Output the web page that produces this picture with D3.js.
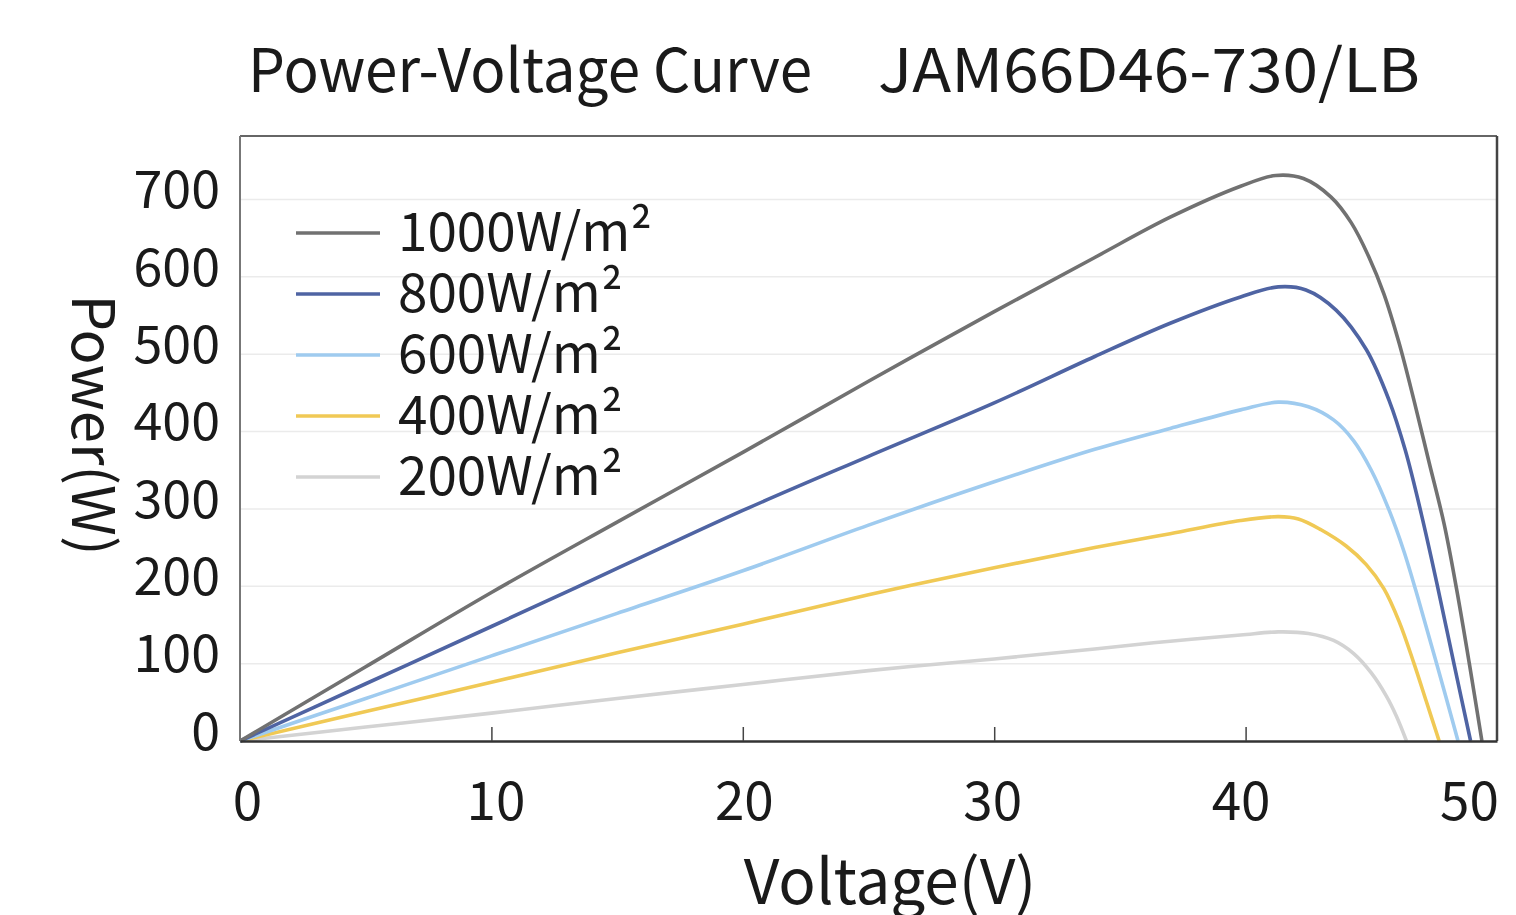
<!DOCTYPE html>
<html>
<head>
<meta charset="utf-8">
<script src="https://cdn.jsdelivr.net/npm/d3@7"></script>
<style>
  body { margin: 0; background: #fff; }
  text { font-family: "Noto Sans CJK SC", "Noto Sans", sans-serif; fill: #1a1a1a; }
</style>
</head>
<body>
<svg id="chart" width="1516" height="915"></svg>
<script>
// irradiance series
var seriesNames = ["1000W/m²", "800W/m²", "600W/m²", "400W/m²", "200W/m²"];
var seriesColors = ["#717171", "#4f64a3", "#9fcbef", "#f0c955", "#d3d3d3"];

var v1000 = [0, 5, 10, 15, 20, 25, 30, 34, 37, 39.8, 41.2, 42.3, 43.4, 44.2, 44.9, 45.5, 46.1, 46.7, 47.3, 47.9, 48.4, 48.9, 49.4];
var p1000 = [0, 96, 192, 283, 373, 465, 555, 625, 677, 717, 731, 727, 703, 670, 626, 578, 515, 440, 360, 280, 195, 100, 0];

var v800 = [0, 5, 10, 15, 20, 25, 30, 34, 37, 39.8, 41.3, 42.4, 43.6, 44.8, 45.7, 46.35, 47.0, 47.6, 48.3, 48.95];
var p800 = [0, 74, 148, 223, 298, 368, 437, 497, 540, 574, 587, 583, 557, 506, 441, 376, 292, 205, 98, 0];

var v600 = [0, 5, 10, 15, 20, 25, 30, 34, 37, 39.8, 41.3, 42.5, 43.5, 44.3, 45, 45.7, 46.3, 46.9, 47.6, 48.45];
var p600 = [0, 55, 110, 165, 220, 279, 335, 377, 404, 428, 438, 432, 415, 388, 350, 299, 245, 180, 100, 0];

var v400 = [0, 5, 10, 15, 20, 25, 30, 34, 37, 39.8, 41.3, 42.1, 43, 44, 44.8, 45.5, 46.1, 46.7, 47.2, 47.7];
var p400 = [0, 38, 76, 114, 151, 189, 224, 250, 268, 285, 290, 287, 273, 252, 228, 197, 155, 100, 50, 0];

var v200 = [0, 5, 10, 15, 20, 25, 30, 34, 37, 39.8, 41.3, 42.5, 43.5, 44.3, 45, 45.6, 46.0, 46.4];
var p200 = [0, 18, 36, 55, 73, 91, 106, 119, 129, 137, 141, 139, 130, 113, 88, 58, 32, 0];

var xTicks = [0, 10, 20, 30, 40, 50];
var yTicks = [0, 100, 200, 300, 400, 500, 600, 700];

var volts = [v1000, v800, v600, v400, v200];
var powers = [p1000, p800, p600, p400, p200];

var svg = d3.select("#chart");

var pLeft = 240, pRight = 1497, pTop = 136, pBottom = 741;

var x = d3.scaleLinear().domain([0, 50]).range([pLeft, pRight]);
var y = d3.scaleLinear().domain([0, 782]).range([pBottom, pTop]);

// title
svg.append("text")
  .attr("x", 248).attr("y", 92)
  .style("font-size", "60px")
  .attr("textLength", 564).attr("lengthAdjust", "spacingAndGlyphs")
  .text("Power-Voltage Curve");
svg.append("text")
  .attr("x", 878).attr("y", 92)
  .style("font-size", "60px")
  .attr("textLength", 542).attr("lengthAdjust", "spacingAndGlyphs")
  .text("JAM66D46-730/LB");

// grid
svg.append("g")
  .selectAll("line")
  .data(yTicks.slice(1))
  .enter().append("line")
  .attr("x1", pLeft).attr("x2", pRight)
  .attr("y1", function(d) { return y(d); })
  .attr("y2", function(d) { return y(d); })
  .attr("stroke", "#ebebeb")
  .attr("stroke-width", 1.5);

// lines
var line = d3.line()
  .x(function(d) { return x(d[0]); })
  .y(function(d) { return y(d[1]); })
  .curve(d3.curveCatmullRom.alpha(0.5));

var series = seriesNames.map(function(n, i) {
  return { name: n, color: seriesColors[i], pts: volts[i].map(function(v, j) { return [v, powers[i][j]]; }) };
});

svg.append("g")
  .selectAll("path")
  .data(series.slice().reverse())
  .enter().append("path")
  .attr("d", function(d) { return line(d.pts); })
  .attr("fill", "none")
  .attr("stroke", function(d) { return d.color; })
  .attr("stroke-width", 3.6);

// frame
svg.append("line").attr("x1", pLeft).attr("x2", pRight).attr("y1", pTop).attr("y2", pTop)
  .attr("stroke", "#666").attr("stroke-width", 2);
svg.append("line").attr("x1", pRight).attr("x2", pRight).attr("y1", pTop).attr("y2", pBottom)
  .attr("stroke", "#444").attr("stroke-width", 2.5);
svg.append("line").attr("x1", pLeft).attr("x2", pLeft).attr("y1", pTop).attr("y2", pBottom)
  .attr("stroke", "#777").attr("stroke-width", 2);

// x axis
var xAxis = d3.axisBottom(x).tickValues(xTicks).tickSizeInner(-14).tickSizeOuter(0).tickPadding(41);
var gx = svg.append("g")
  .attr("transform", "translate(0," + pBottom + ")")
  .call(xAxis);
gx.select(".domain").attr("stroke", "#333").attr("stroke-width", 2.5);
gx.selectAll(".tick line").attr("stroke", "#444").attr("stroke-width", 1.5)
  .filter(function(d) { return d == 0 || d == 50; }).remove();
gx.selectAll(".tick text")
  .style("font-size", "53px").attr("fill", "#1a1a1a")
  .attr("dx", function(d) { return d == 50 ? -28 : 7 - d * 0.3; });

// y axis
var yAxis = d3.axisLeft(y).tickValues(yTicks).tickSize(0).tickPadding(20);
var gy = svg.append("g")
  .attr("transform", "translate(" + pLeft + ",0)")
  .call(yAxis);
gy.select(".domain").remove();
gy.selectAll(".tick text")
  .style("font-size", "52px").attr("fill", "#1a1a1a")
  .attr("dy", "0.16em");

// axis titles
svg.append("text")
  .attr("x", 890).attr("y", 904)
  .attr("text-anchor", "middle")
  .style("font-size", "62px")
  .text("Voltage(V)");
svg.append("text")
  .attr("transform", "translate(72,425) rotate(90)")
  .attr("text-anchor", "middle")
  .style("font-size", "58px")
  .text("Power(W)");

// legend
var legend = svg.append("g");
var lg = legend.selectAll("g")
  .data(series)
  .enter().append("g")
  .attr("transform", function(d, i) { return "translate(296," + (233 + i * 61) + ")"; });
lg.append("line")
  .attr("x1", 0).attr("x2", 84)
  .attr("stroke", function(d) { return d.color; })
  .attr("stroke-width", 3.6);
lg.append("text")
  .attr("x", 102).attr("y", 18)
  .style("font-size", "53px")
  .text(function(d) { return d.name; });
</script>
</body>
</html>
